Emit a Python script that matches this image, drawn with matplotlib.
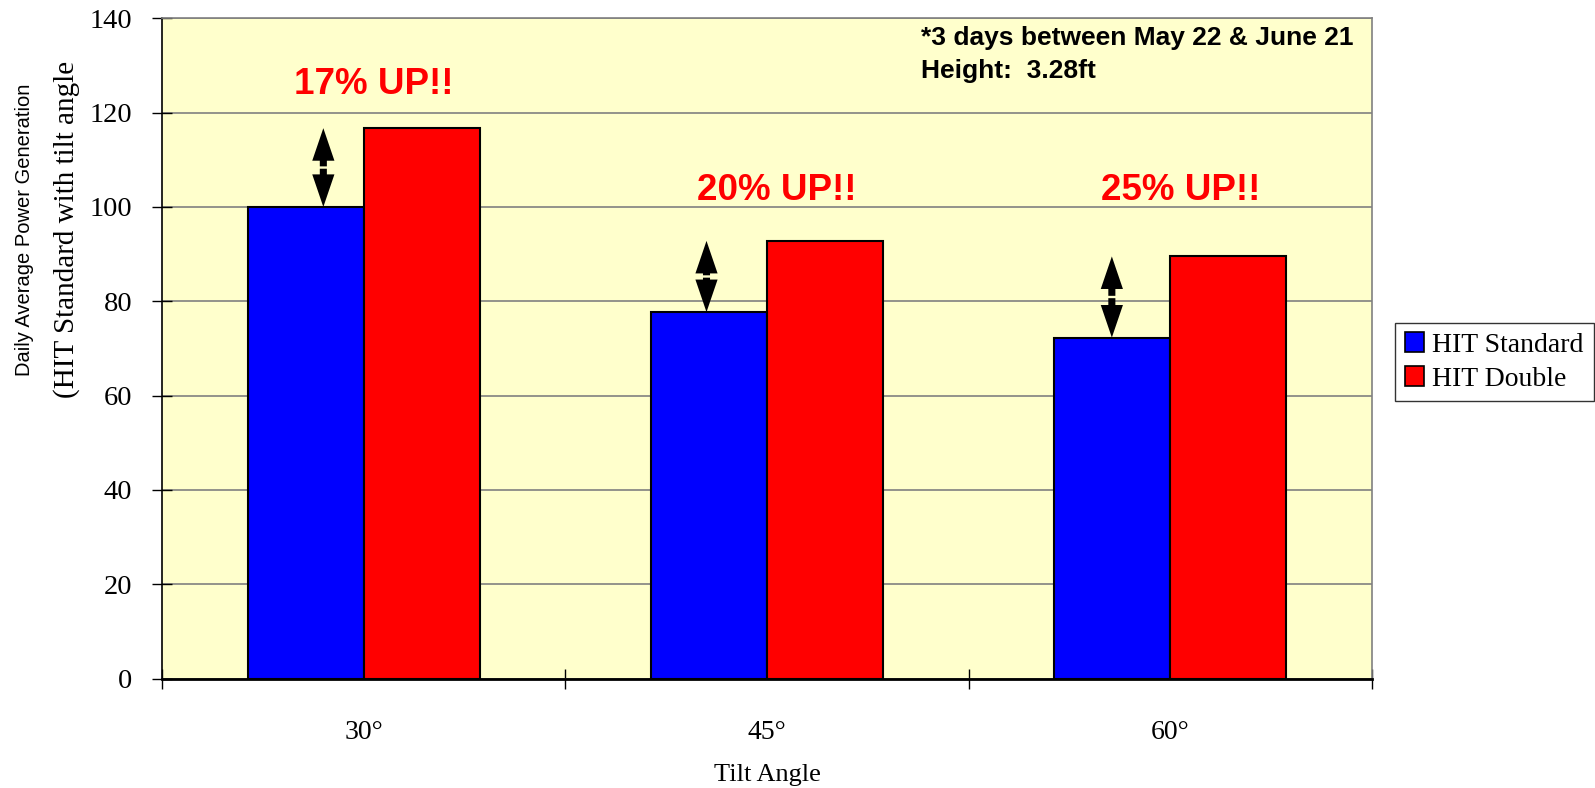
import matplotlib
matplotlib.use("Agg")
import matplotlib.pyplot as plt
import numpy as np

categories = ['30°', '45°', '60°']
standard = [100.0, 77.7, 72.3]
double = [116.7, 92.8, 89.5]
gain_labels = ['17% UP!!', '20% UP!!', '25% UP!!']
gain_label_y = [126.0, 103.5, 103.5]
series_names = ['HIT Standard', 'HIT Double']
yticks = [0, 20, 40, 60, 80, 100, 120, 140]

arrow_offsets = [-0.10, -0.15, -0.145]

W, H = 1595, 788
fig = plt.figure(figsize=(W / 100, H / 100), dpi=100)
ax = fig.add_axes([162 / W, 1 - 678.5 / H, (1372 - 162) / W, (678.5 - 18.3) / H])
ax.set_facecolor('#FFFFCC')

x = np.arange(len(categories))
bw = 0.288
ax.bar(x - bw / 2, standard, bw, color='#0000FF', edgecolor='black', linewidth=1.5, zorder=3, label=series_names[0])
ax.bar(x + bw / 2, double, bw, color='#FF0000', edgecolor='black', linewidth=1.5, zorder=3, label=series_names[1])

ax.set_xlim(-0.5, len(categories) - 0.5)
ax.set_ylim(0, 140)

# arrow geometry (x in category units, y in data units)
shaft_w, head_w, head_l, gap = 0.0175, 0.055, 6.9, 0.25
for i in range(len(categories)):
    xa = x[i] + arrow_offsets[i]
    mid = (standard[i] + double[i]) / 2
    ax.arrow(xa, mid + gap, 0, double[i] - mid - gap, width=shaft_w, head_width=head_w,
             head_length=head_l, length_includes_head=True, color='black', lw=0, zorder=4)
    ax.arrow(xa, mid - gap, 0, standard[i] - mid + gap, width=shaft_w, head_width=head_w,
             head_length=head_l, length_includes_head=True, color='black', lw=0, zorder=4)
    ax.text(x[i] + 0.025, gain_label_y[i], gain_labels[i], ha='center', va='center',
            fontsize=26.5, fontweight='bold', color='#FF0000', family='Liberation Sans', zorder=5)

ax.set_yticks(yticks)
ax.set_yticklabels([str(v) for v in yticks], family='Liberation Serif', fontsize=20.5)
ax.yaxis.grid(True, color='#808080', linewidth=1.2, zorder=1)
ax.set_axisbelow(True)

ax.set_xticks(np.arange(-0.5, len(categories) + 0.5, 1.0))
ax.set_xticklabels([])
ax.set_xticks(x, minor=True)
ax.set_xticklabels(categories, minor=True, family='Liberation Serif', fontsize=20)
ax.tick_params(axis='x', which='major', direction='inout', length=14.5, width=1, color='black')
ax.tick_params(axis='x', which='minor', length=0, pad=30)
ax.tick_params(axis='y', direction='inout', length=14, width=1, pad=14.5)

for s in ['top', 'right']:
    ax.spines[s].set_color('#808080')
    ax.spines[s].set_linewidth(1.2)
ax.spines['left'].set_color('black')
ax.spines['left'].set_linewidth(1.2)
ax.spines['bottom'].set_color('black')
ax.spines['bottom'].set_linewidth(2)

fig.text((162 + 1372) / 2 / W, 1 - 775 / H, 'Tilt Angle', ha='center', va='center',
         family='Liberation Serif', fontsize=19)

fig.text(25 / W, 1 - 230 / H, 'Daily Average Power Generation', rotation=90, ha='center', va='center',
         family='Liberation Sans', fontsize=14.5)
fig.text(67 / W, 1 - 229 / H, '(HIT Standard with tilt angle', rotation=90, ha='center', va='center',
         family='Liberation Serif', fontsize=21)

fig.text(921 / W, 1 - 38 / H, '*3 days between May 22 & June 21',
         ha='left', va='center', fontsize=19, fontweight='bold', family='Liberation Sans')
fig.text(921 / W, 1 - 71 / H, 'Height:  3.28ft',
         ha='left', va='center', fontsize=19, fontweight='bold', family='Liberation Sans')

leg = fig.legend(loc='center left', bbox_to_anchor=(1395 / W, 1 - 362 / H),
                 prop={'family': 'Liberation Serif', 'size': 20}, frameon=True, fancybox=False,
                 edgecolor='black', handlelength=0.7, handleheight=0.7, handletextpad=0.3,
                 borderpad=0.35, labelspacing=0.3, borderaxespad=0)
leg.get_frame().set_linewidth(1)
for h in leg.legend_handles:
    h.set_edgecolor('black')
    h.set_linewidth(1.2)

fig.savefig('out.png', dpi=100, facecolor='white')
